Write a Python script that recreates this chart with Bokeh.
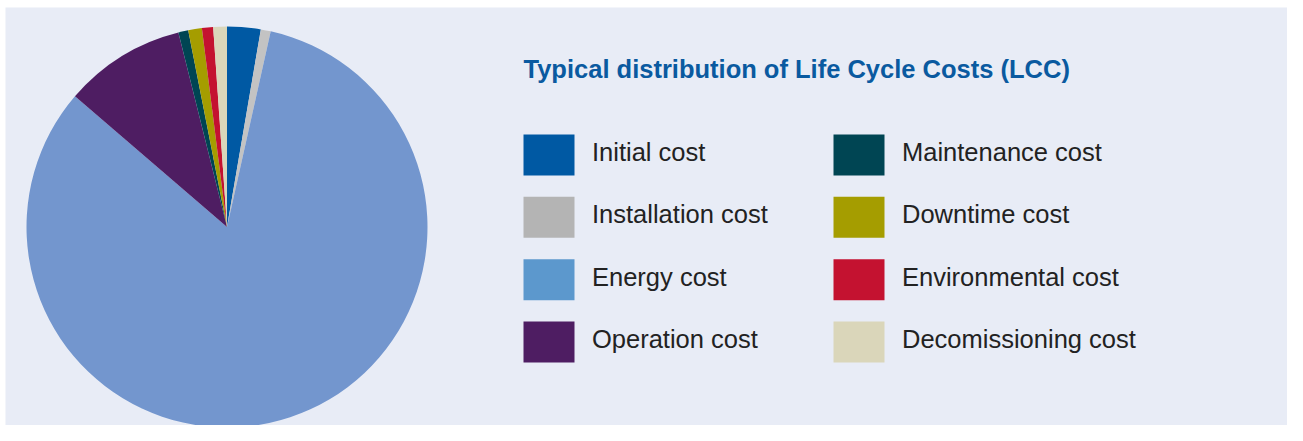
import numpy as np
from bokeh.plotting import figure
from bokeh.models import ColumnDataSource
from bokeh.core.properties import value
from bokeh.embed import file_html
from bokeh.resources import INLINE

# ---- data ----
categories = ["Initial cost", "Installation cost", "Energy cost", "Operation cost",
              "Maintenance cost", "Downtime cost", "Environmental cost", "Decomissioning cost"]
shares = [2.7, 0.8, 82.8, 9.8, 0.8, 1.1, 0.9, 1.1]
pie_colors = ["#0059A3", "#C3C3C3", "#7396CE", "#4E1D62", "#004553", "#A59D00", "#C41230", "#DAD6BA"]
swatch_colors = ["#0059A3", "#B4B4B4", "#5C98CD", "#4E1D62", "#004553", "#A59D00", "#C41230", "#DAD6BA"]
title_text = "Typical distribution of Life Cycle Costs (LCC)"

W, H = 1287, 425
BG = "#E8ECF6"

p = figure(width=W, height=H, x_range=(0, W), y_range=(0, H),
           output_backend="svg", toolbar_location=None, min_border=0)
p.axis.visible = False
p.grid.visible = False
p.outline_line_color = None
p.background_fill_color = "white"
p.border_fill_color = "white"

# panel background (white margin at left/top as in the reference)
p.quad(left=[5], right=[W], bottom=[0], top=[H - 7], fill_color=BG, line_color=None)

# pie
vals = np.array(shares, dtype=float)
frac = vals / vals.sum()
cum = np.concatenate([[0.0], np.cumsum(frac)])
start = np.pi / 2 - 2 * np.pi * cum[:-1]
end = np.pi / 2 - 2 * np.pi * cum[1:]
cx, cy, r = 226.5, H - 226.5, 200.5
src = ColumnDataSource(dict(start=start, end=end, color=pie_colors, name=categories))
p.wedge(x=cx, y=cy, radius=r, start_angle="start", end_angle="end", direction="clock",
        fill_color="color", line_color=None, source=src)

# title
p.text(x=[523], y=[H - 68.0], text=[title_text], text_font=value("Liberation Sans"),
       text_font_style="bold", text_font_size="25.5px", text_color="#0A5AA0",
       text_baseline="alphabetic", text_align="left")

# legend
n = len(categories)
idx = np.arange(n)
col = idx // 4
row = idx % 4
sw_x = np.where(col == 0, 548.5, 858.5)
sw_y = H - (154.5 + row * 62.33)
tx = sw_x + 43.0
ty = sw_y + 3.0
lsrc = ColumnDataSource(dict(x=sw_x, y=sw_y, tx=tx, ty=ty, color=swatch_colors, name=categories))
p.rect(x="x", y="y", width=51, height=41, fill_color="color", line_color=None, source=lsrc)
p.text(x="tx", y="ty", text="name", source=lsrc, text_font=value("Liberation Sans"),
       text_font_size="25.5px", text_color="#222222", text_baseline="alphabetic",
       text_align="left")

open("out.html", "w").write(file_html(p, INLINE))
